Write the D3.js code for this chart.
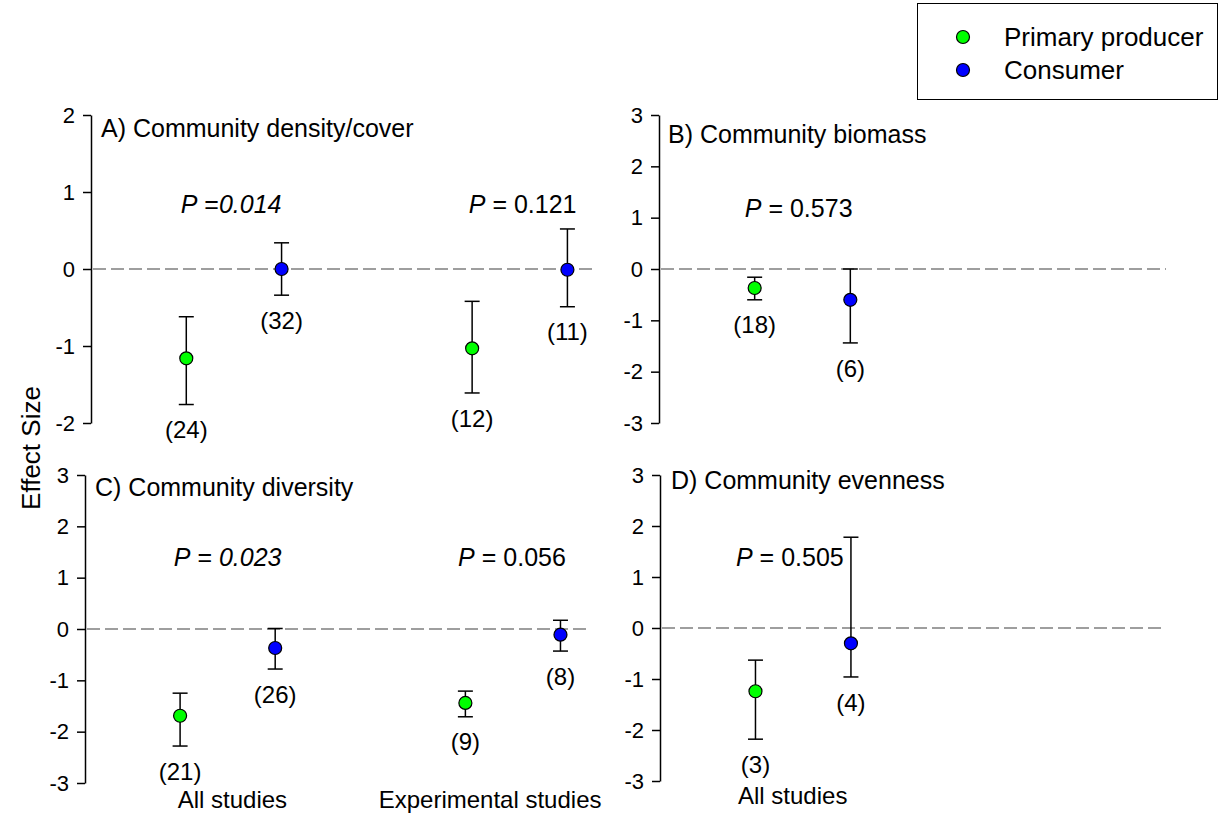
<!DOCTYPE html>
<html><head><meta charset="utf-8">
<script src="https://cdn.jsdelivr.net/npm/d3@7"></script>
<style>
body{margin:0;background:#fff}
text{font-family:Arial,"Liberation Sans",Helvetica,sans-serif;fill:#000}
</style>
</head><body>
<svg id="chart" width="1224" height="821"></svg>
<script>
// ---------- DATA ----------
const categories = ["All studies", "Experimental studies"];
const seriesNames = ["Primary producer", "Consumer"];

// Panel A) Community density/cover
const aProducerMean  = [-1.16, -1.03];
const aProducerLower = [-1.76, -1.61];
const aProducerUpper = [-0.62, -0.42];
const aProducerN     = [24, 12];
const aConsumerMean  = [0.00, -0.01];
const aConsumerLower = [-0.34, -0.49];
const aConsumerUpper = [0.34, 0.52];
const aConsumerN     = [32, 11];
const aPValues       = ["0.014", "0.121"];
const aSignificant   = [true, false];
const aTicks         = [-2, -1, 0, 1, 2];

// Panel B) Community biomass
const bProducerMean  = [-0.37];
const bProducerLower = [-0.60];
const bProducerUpper = [-0.16];
const bProducerN     = [18];
const bConsumerMean  = [-0.60];
const bConsumerLower = [-1.44];
const bConsumerUpper = [0.00];
const bConsumerN     = [6];
const bPValues       = ["0.573"];
const bSignificant   = [false];
const bTicks         = [-3, -2, -1, 0, 1, 2, 3];

// Panel C) Community diversity
const cProducerMean  = [-1.69, -1.44];
const cProducerLower = [-2.28, -1.71];
const cProducerUpper = [-1.25, -1.21];
const cProducerN     = [21, 9];
const cConsumerMean  = [-0.37, -0.11];
const cConsumerLower = [-0.78, -0.43];
const cConsumerUpper = [0.01, 0.17];
const cConsumerN     = [26, 8];
const cPValues       = ["0.023", "0.056"];
const cSignificant   = [true, false];
const cTicks         = [-3, -2, -1, 0, 1, 2, 3];

// Panel D) Community evenness
const dProducerMean  = [-1.24];
const dProducerLower = [-2.18];
const dProducerUpper = [-0.63];
const dProducerN     = [3];
const dConsumerMean  = [-0.30];
const dConsumerLower = [-0.96];
const dConsumerUpper = [1.78];
const dConsumerN     = [4];
const dPValues       = ["0.505"];
const dSignificant   = [false];
const dTicks         = [-3, -2, -1, 0, 1, 2, 3];

// ---------- STYLE / LAYOUT ----------
const colors = ["#00ff00", "#0000ff"];
const panels = [
  { title: "A) Community density/cover", axisX: 91, top: 115, bottom: 423, right: 596,
    titleX: 101, titleY: 137, pBase: 213, pX: [1.47, 4.53], pTight: [true, false], catX: null,
    ticks: aTicks, pv: aPValues, sig: aSignificant,
    series: [[aProducerMean, aProducerLower, aProducerUpper, aProducerN],
             [aConsumerMean, aConsumerLower, aConsumerUpper, aConsumerN]] },
  { title: "B) Community biomass", axisX: 659, top: 115, bottom: 423, right: 1166,
    titleX: 668, titleY: 143, pBase: 217, pX: [1.46], pTight: [false], catX: null,
    ticks: bTicks, pv: bPValues, sig: bSignificant,
    series: [[bProducerMean, bProducerLower, bProducerUpper, bProducerN],
             [bConsumerMean, bConsumerLower, bConsumerUpper, bConsumerN]] },
  { title: "C) Community diversity", axisX: 85, top: 475, bottom: 783, right: 589,
    titleX: 95, titleY: 496, pBase: 566, pX: [1.50, 4.49], pTight: [false, false], catX: [1.55, 4.26], catY: 808,
    ticks: cTicks, pv: cPValues, sig: cSignificant,
    series: [[cProducerMean, cProducerLower, cProducerUpper, cProducerN],
             [cConsumerMean, cConsumerLower, cConsumerUpper, cConsumerN]] },
  { title: "D) Community evenness", axisX: 660, top: 475, bottom: 781, right: 1166,
    titleX: 671, titleY: 489, pBase: 566, pX: [1.36], pTight: [false], catX: [1.39], catY: 804,
    ticks: dTicks, pv: dPValues, sig: dSignificant,
    series: [[dProducerMean, dProducerLower, dProducerUpper, dProducerN],
             [dConsumerMean, dConsumerLower, dConsumerUpper, dConsumerN]] }
];

const svg = d3.select("#chart");

panels.forEach(p => {
  const g = svg.append("g");
  const y = d3.scaleLinear().domain([d3.min(p.ticks), d3.max(p.ticks)]).range([p.bottom, p.top]);
  const x = d3.scaleLinear().domain([0, 5.3]).range([p.axisX, p.right]);

  // y axis
  const ax = g.append("g").attr("transform", `translate(${p.axisX},0)`)
    .call(d3.axisLeft(y).tickValues(p.ticks).tickFormat(d => String(d))
      .tickSize(8).tickSizeOuter(0).tickPadding(8));
  ax.select(".domain").attr("stroke", "#000").attr("stroke-width", 1.5);
  ax.selectAll(".tick line").attr("stroke", "#000").attr("stroke-width", 1.5);
  ax.selectAll(".tick text").attr("font-size", 22).attr("font-family", "Arial, 'Liberation Sans', sans-serif");

  // zero reference line
  g.append("line")
    .attr("x1", x(0) + 2).attr("x2", p.right)
    .attr("y1", y(0)).attr("y2", y(0))
    .attr("stroke", "#7f7f7f").attr("stroke-width", 1.5)
    .attr("stroke-dasharray", "13,5");

  // title
  g.append("text").attr("x", p.titleX).attr("y", p.titleY)
    .attr("font-size", 25).text(p.title);

  // series
  p.series.forEach((s, si) => {
    const [mean, lower, upper, n] = s;
    const pts = mean.map((m, i) => ({ xv: 1 + si + 3 * i, m, lo: lower[i], hi: upper[i], n: n[i] }));
    const eg = g.append("g");
    eg.selectAll("line.v").data(pts).join("line")
      .attr("x1", d => x(d.xv)).attr("x2", d => x(d.xv))
      .attr("y1", d => y(d.lo)).attr("y2", d => y(d.hi))
      .attr("stroke", "#000").attr("stroke-width", 1.5);
    eg.selectAll("line.lo").data(pts).join("line")
      .attr("x1", d => x(d.xv) - 7.5).attr("x2", d => x(d.xv) + 7.5)
      .attr("y1", d => y(d.lo)).attr("y2", d => y(d.lo))
      .attr("stroke", "#000").attr("stroke-width", 1.5);
    eg.selectAll("line.hi").data(pts).join("line")
      .attr("x1", d => x(d.xv) - 7.5).attr("x2", d => x(d.xv) + 7.5)
      .attr("y1", d => y(d.hi)).attr("y2", d => y(d.hi))
      .attr("stroke", "#000").attr("stroke-width", 1.5);
    eg.selectAll("circle").data(pts).join("circle")
      .attr("cx", d => x(d.xv)).attr("cy", d => y(d.m)).attr("r", 6.5)
      .attr("fill", colors[si]).attr("stroke", "#000").attr("stroke-width", 1.2);
    eg.selectAll("text").data(pts).join("text")
      .attr("x", d => x(d.xv)).attr("y", d => y(d.lo) + 25)
      .attr("dy", "0.36em").attr("text-anchor", "middle").attr("font-size", 24)
      .text(d => `(${d.n})`);
  });

  // P values
  p.pv.forEach((v, i) => {
    const t = g.append("text").attr("x", x(p.pX[i])).attr("y", p.pBase)
      .attr("text-anchor", "middle").attr("font-size", 25);
    t.append("tspan").attr("font-style", "italic").text("P");
    t.append("tspan").text(p.pTight[i] ? " =" : " = ");
    t.append("tspan").attr("font-style", p.sig[i] ? "italic" : "normal").text(v);
  });

  // category labels
  if (p.catX) {
    p.catX.forEach((cx, i) => {
      g.append("text").attr("x", x(cx)).attr("y", p.catY)
        .attr("text-anchor", "middle").attr("font-size", 24).text(categories[i]);
    });
  }
});

// y-axis title
svg.append("text").attr("transform", "translate(40,448) rotate(-90)")
  .attr("text-anchor", "middle").attr("font-size", 26).text("Effect Size");

// legend
const lg = svg.append("g");
lg.append("rect").attr("x", 917.5).attr("y", 3.5).attr("width", 300).attr("height", 96)
  .attr("fill", "#fff").attr("stroke", "#000").attr("stroke-width", 1);
seriesNames.forEach((nm, i) => {
  lg.append("circle").attr("cx", 963).attr("cy", 37 + i * 33).attr("r", 6.5)
    .attr("fill", colors[i]).attr("stroke", "#000").attr("stroke-width", 1.2);
  lg.append("text").attr("x", 1004).attr("y", 37 + i * 33).attr("dy", "0.36em")
    .attr("font-size", 26).text(nm);
});
</script>
</body></html>
